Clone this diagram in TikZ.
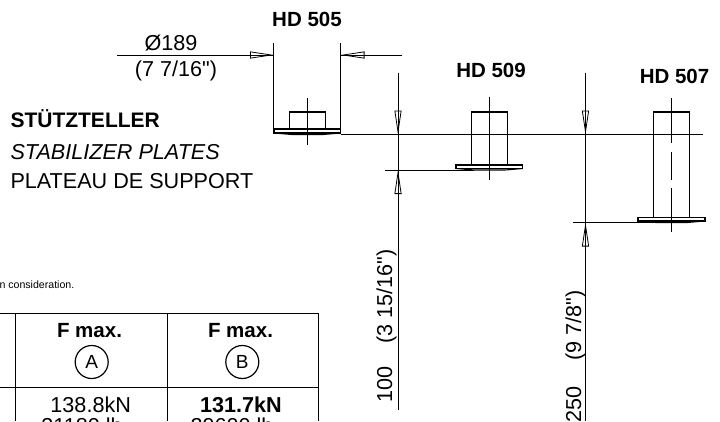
\documentclass[tikz,border=0pt]{standalone}
\usepackage{fontspec}
\setmainfont{Liberation Sans}[Ligatures=TeXOff]
\usetikzlibrary{arrows.meta}

\tikzset{
  dimtip/.style={-{Triangle[open,length=24pt,width=7pt,line width=0.8pt]},line width=0.8pt},
  part/.style={line width=1.1pt},
  label/.style={font=\fontsize{21.6}{24}\selectfont,inner sep=0pt},
  head/.style={label,font=\fontsize{20.5}{24}\bfseries\selectfont,anchor=base},
  ring/.style={circle,draw,line width=1.2pt,minimum size=33pt,inner sep=0pt,font=\fontsize{19}{20}\selectfont}
}

\begin{document}
\begin{tikzpicture}[x=1pt,y=-1pt,line width=1pt]
\clip (0,0) rectangle (720,421);

% headings
\node [head] (hd505) at (307,26) {HD 505};
\node [head] (hd509) at (491,77) {HD 509};
\node [head] (hd507) at (674.5,83) {HD 507};
\node [label,anchor=base west,font=\fontsize{21}{24}\bfseries\selectfont] (titlede) at (10,127) {STÜTZTELLER};
\node [label,anchor=base west,font=\fontsize{21.6}{24}\itshape\selectfont] (titleen) at (10,159) {STABILIZER PLATES};
\node [label,anchor=base west] (titlefr) at (10,188) {PLATEAU DE SUPPORT};
\node [inner sep=0pt,anchor=base west,font=\fontsize{10.6}{12}\selectfont] (note) at (-1,288) {n consideration.};

% diameter
\node [label,anchor=base] (dia) at (171,50) {Ø189};
\node [label,anchor=base] (diainch) at (176,76) {(7 7/16")};
\draw (117,55) -- (274,55);
\draw (340.5,55) -- (402,55);
\draw (273.8,43) -- (273.8,132);
\draw (340.5,43) -- (340.5,132);
\draw [dimtip] (249,55) -- (274,55);
\draw [dimtip] (365,55) -- (340.5,55);

% plates
\draw [part] (289.5,129) -- (289.5,112) -- (325.5,112) -- (325.5,129);
\draw [part] (274,129) rectangle (340.5,133);
\draw [part] (274,133) -- (292,134.5) -- (323,134.5) -- (340.5,133);
\draw (307.3,98) -- (307.3,145);

\draw [part] (471.3,165) -- (471.3,112) -- (507.7,112) -- (507.7,165);
\draw [part] (456,165) rectangle (522.7,168.5);
\draw [part] (456,168.5) -- (474,170) -- (505,170) -- (522.7,168.5);
\draw (489.5,97) -- (489.5,180);

\draw [part] (653.3,217.3) -- (653.3,112) -- (689.3,112) -- (689.3,217.3);
\draw [part] (638,217.3) rectangle (705,221);
\draw [part] (638,221) -- (656,222.5) -- (687,222.5) -- (705,221);
\draw (671.3,98) -- (671.3,142.7);
\draw (671.3,152) -- (671.3,180);
\draw (671.3,188) -- (671.3,232);

% heights
\draw (340.5,134.5) -- (703,134.5);
\draw (385,170) -- (474,170);
\draw (573,222.5) -- (656,222.5);
\draw (398,73) -- (398,410);
\draw (585.5,73) -- (585.5,421);
\draw [dimtip] (398,110) -- (398,134.5);
\draw [dimtip] (398,194) -- (398,170);
\draw [dimtip] (585.5,110) -- (585.5,134.5);
\draw [dimtip] (585.5,247) -- (585.5,222.5);
\node [label,rotate=90,anchor=base west] (hundred) at (392,403) {100};
\node [label,rotate=90,anchor=base west] (hundredinch) at (392,344) {(3 15/16")};
\node [label,rotate=90,anchor=base west] (twofifty) at (581,423) {250};
\node [label,rotate=90,anchor=base west] (twofiftyinch) at (581,361) {(9 7/8")};

% table
\draw (-1,313.5) -- (318,313.5) -- (318,421);
\draw (-1,387) -- (318,387);
\draw (15.7,313.5) -- (15.7,421);
\draw (167,313.5) -- (167,421);
\node [head] (fa) at (89.5,337) {F max.};
\node [head] (fb) at (240.5,337) {F max.};
\node [ring] (circa) at (91.7,362) {A};
\node [ring] (circb) at (242.3,362) {B};
\node [label,anchor=base] (kna) at (90.7,412) {138.8kN};
\node [label,anchor=base,font=\fontsize{21.6}{24}\bfseries\selectfont] (knb) at (241,412) {131.7kN};
\node [label,anchor=base] (lba) at (82,433) {31180 lb};
\node [label,anchor=base] (lbb) at (232,433) {29600 lb};
\end{tikzpicture}
\end{document}
